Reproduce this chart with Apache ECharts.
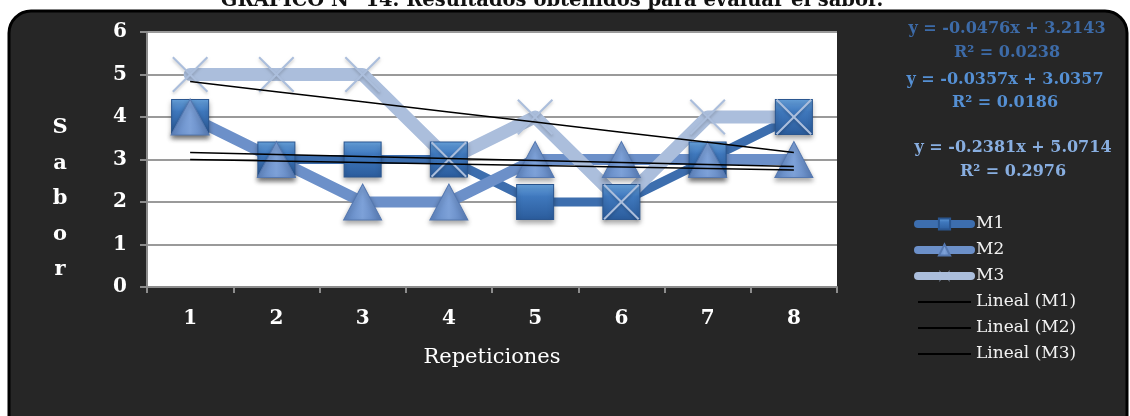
<!DOCTYPE html>
<html>
<head>
<meta charset="utf-8">
<script src="https://cdn.jsdelivr.net/npm/echarts@6/dist/echarts.min.js"></script>
<style>
  html, body { margin: 0; padding: 0; background: #ffffff; }
  #chart { width: 1130px; height: 416px; }
</style>
</head>
<body>
<div id="chart"></div>
<script>
// Repetition numbers on the x axis
const categories = ['1', '2', '3', '4', '5', '6', '7', '8'];
// Flavour scores for each sample
const m1 = [4, 3, 3, 3, 2, 2, 3, 4];
const m2 = [4, 3, 2, 2, 3, 3, 3, 3];
const m3 = [5, 5, 5, 3, 4, 2, 4, 4];
const seriesNames = ['M1', 'M2', 'M3'];
// Linear fit coefficients (y = slope * x + intercept) and R² per sample
const slopes = [-0.0476, -0.0357, -0.2381];
const intercepts = [3.2143, 3.0357, 5.0714];
const r2 = ['0.0238', '0.0186', '0.2976'];
const trendNames = ['Lineal (M1)', 'Lineal (M2)', 'Lineal (M3)'];
const yTicks = [0, 1, 2, 3, 4, 5, 6];

const SERIF = '"DejaVu Serif", "Liberation Serif", serif';
const colors = ['#3d6eae', '#6c90c9', '#abbedc'];
const lineWidths = [9, 11, 13];
const eqColors = ['#3d6ba8', '#5590d4', '#88aee0'];

// Straight fit line evaluated at each repetition
function trend(i) {
  return categories.map(c => +(slopes[i] * Number(c) + intercepts[i]).toFixed(4));
}
function fmt(v) { return v.toFixed(4); }

const crossPath = 'path://M0,4L4,0L50,46L96,0L100,4L54,50L100,96L96,100L50,54L4,100L0,96L46,50Z';

const markerShadow = { shadowBlur: 5, shadowColor: 'rgba(0,0,0,0.35)', shadowOffsetY: 3 };

const chart = echarts.init(document.getElementById('chart'));

const eqGraphics = [];
const eqY = [[29, 53], [80, 103], [148, 172]];
const eqX = [1007, 1005, 1013];
for (let i = 0; i < 3; i++) {
  eqGraphics.push({
    type: 'text', x: eqX[i], y: eqY[i][0], z: 50,
    style: { text: 'y = ' + fmt(slopes[i]) + 'x + ' + fmt(intercepts[i]), fill: eqColors[i],
             font: 'bold 16px ' + SERIF, align: 'center', verticalAlign: 'middle' }
  });
  eqGraphics.push({
    type: 'text', x: eqX[i], y: eqY[i][1], z: 50,
    style: { text: 'R² = ' + r2[i], fill: eqColors[i],
             font: 'bold 16px ' + SERIF, align: 'center', verticalAlign: 'middle' }
  });
}

const legendData = seriesNames.map((n, i) => ({
  name: n,
  lineStyle: { width: 8, color: colors[i], cap: 'round' }
})).concat(trendNames.map(n => ({
  name: n,
  lineStyle: { width: 2, color: '#000000' },
  itemStyle: { opacity: 0 }
})));

const option = {
  animation: false,
  backgroundColor: 'transparent',
  graphic: [
    {
      type: 'text', x: 552, y: 11, z: -200,
      style: { text: 'GRÁFICO N° 14. Resultados obtenidos para evaluar el sabor.', fill: '#111',
               font: 'bold 19.5px ' + SERIF, align: 'center', verticalAlign: 'bottom' }
    },
    {
      type: 'rect', z: -100, silent: true,
      shape: { x: 9, y: 11, width: 1118, height: 440, r: 22 },
      style: { fill: '#262626', stroke: '#000000', lineWidth: 3 }
    },
    {
      type: 'text', x: 60, y: 199, z: 50,
      style: { text: 'S\na\nb\no\nr', fill: '#ffffff', font: 'bold 21px ' + SERIF,
               align: 'center', verticalAlign: 'middle', lineHeight: 35.5 }
    }
  ].concat(eqGraphics),
  grid: {
    left: 147, right: 293, top: 32, bottom: 129,
    show: true, backgroundColor: '#ffffff', borderWidth: 0
  },
  legend: {
    orient: 'vertical', left: 914, top: 214, padding: 0,
    itemWidth: 53, itemHeight: 14, itemGap: 6,
    data: legendData,
    textStyle: { color: '#f2f2f2', fontSize: 17, fontFamily: SERIF, lineHeight: 20 }
  },
  xAxis: {
    type: 'category', data: categories, boundaryGap: true,
    name: 'Repeticiones', nameLocation: 'middle', nameGap: 60,
    nameTextStyle: { color: '#ffffff', fontSize: 21, fontFamily: SERIF },
    axisLine: { lineStyle: { color: '#8c8c8c', width: 2 } },
    axisTick: { show: true, length: 6, lineStyle: { color: '#8c8c8c', width: 2 } },
    axisLabel: { color: '#ffffff', fontSize: 20, fontWeight: 'bold', fontFamily: SERIF, margin: 22 }
  },
  yAxis: {
    type: 'value', min: yTicks[0], max: yTicks[yTicks.length - 1], interval: 1,
    axisLine: { show: true, lineStyle: { color: '#8c8c8c', width: 2 } },
    axisTick: { show: true, length: 7, lineStyle: { color: '#8c8c8c', width: 2 } },
    axisLabel: { color: '#ffffff', fontSize: 20, fontWeight: 'bold', fontFamily: SERIF, margin: 20 },
    splitLine: { lineStyle: { color: '#9a9a9a', width: 2 } }
  },
  series: [
    {
      name: 'M1', type: 'line', data: m1,
      symbol: 'rect', symbolSize: [37, 35],
      lineStyle: { color: colors[0], width: lineWidths[0], cap: 'round', join: 'round' },
      itemStyle: Object.assign({
        color: new echarts.graphic.LinearGradient(0, 0, 0, 1, [
          { offset: 0, color: '#6aa6e2' }, { offset: 0.35, color: '#3f78bd' },
          { offset: 1, color: '#2b5c9c' }
        ]),
        borderColor: '#2a5690', borderWidth: 1
      }, markerShadow)
    },
    {
      name: 'M2', type: 'line', data: m2,
      symbol: 'triangle', symbolSize: [38, 36],
      lineStyle: { color: colors[1], width: lineWidths[1], cap: 'round', join: 'round' },
      itemStyle: Object.assign({
        color: new echarts.graphic.LinearGradient(0, 0, 1, 0, [
          { offset: 0, color: '#5f86c2' }, { offset: 0.5, color: '#7da1d8' },
          { offset: 1, color: '#5a7fba' }
        ]),
        borderColor: '#5578b0', borderWidth: 1
      }, markerShadow)
    },
    {
      name: 'M3', type: 'line', data: m3,
      symbol: crossPath, symbolSize: 36,
      lineStyle: { color: colors[2], width: lineWidths[2], cap: 'round', join: 'round' },
      itemStyle: { color: colors[2], shadowBlur: 3, shadowColor: 'rgba(0,0,0,0.2)', shadowOffsetY: 2 }
    }
  ].concat(trendNames.map((n, i) => ({
    name: n, type: 'line', data: trend(i), symbol: 'none', z: 5,
    lineStyle: { color: '#000000', width: 1.5 },
    itemStyle: { color: '#000000' }
  })))
};

chart.setOption(option);
</script>
</body>
</html>
